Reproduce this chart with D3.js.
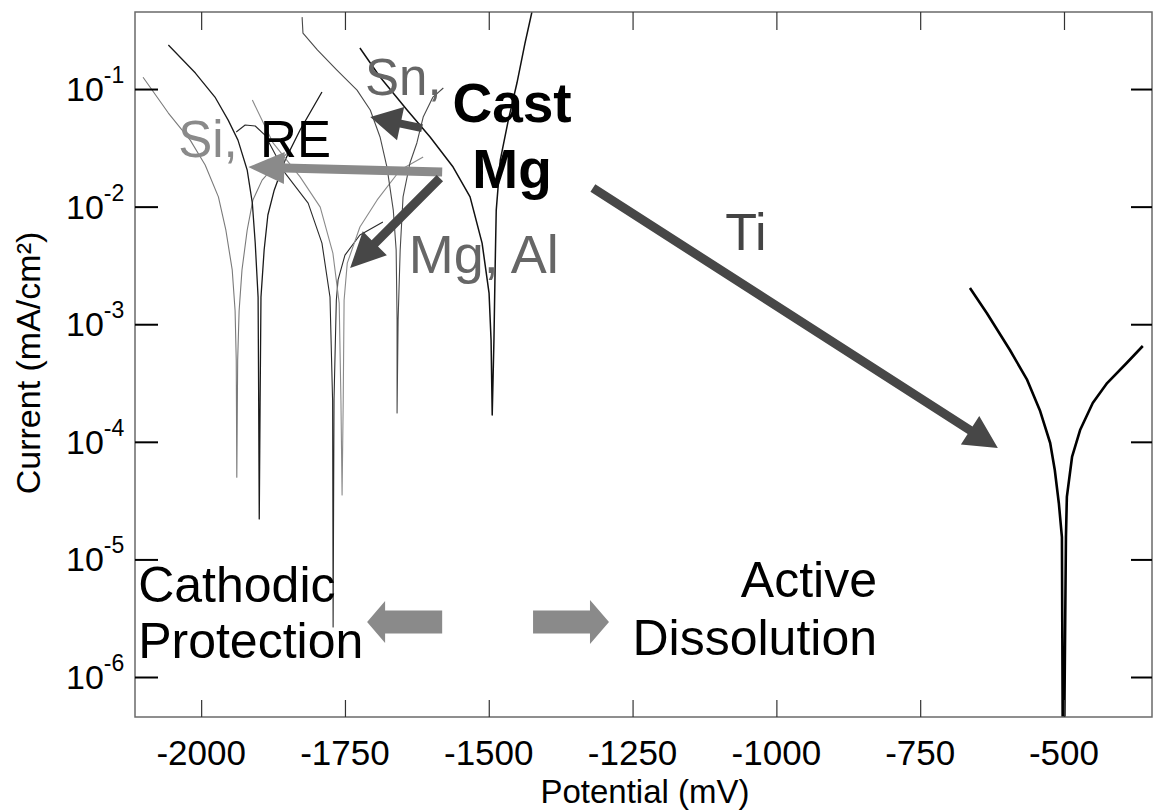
<!DOCTYPE html>
<html><head><meta charset="utf-8">
<script src="https://cdn.jsdelivr.net/npm/d3@7"></script>
<style>html,body{margin:0;padding:0;background:#fff;} svg{display:block;font-family:"Liberation Sans",Arial,sans-serif;}</style>
</head><body>
<svg id="chart" width="1158" height="811"></svg>
<script>
// ---- data (potential mV, current mA/cm2) ----
const xTicks = [-2000, -1750, -1500, -1250, -1000, -750, -500];
const yTickExps = [-1, -2, -3, -4, -5, -6];

const curveSi = [[-2101,0.126],[-2057,0.0625],[-2019,0.0368],[-1993,0.0226],[-1970,0.0121],[-1957,0.0063],[-1946,0.0029],[-1941,0.0013],[-1939,4.97e-4],[-1938,5.0e-5],[-1936.5,5.0e-4],[-1934,0.0013],[-1929,0.0029],[-1920,0.0063],[-1910,0.0114],[-1894,0.0168],[-1871,0.0226],[-1845,0.0303]];
const curveRE = [[-2057,0.2366],[-2010,0.1367],[-1976,0.0855],[-1953,0.0544],[-1936,0.0368],[-1920,0.0205],[-1911,0.0107],[-1906,0.0049],[-1901,0.0017],[-1900,2.26e-4],[-1899,2.21e-5],[-1897.5,2.3e-4],[-1896,0.0017],[-1890.5,0.00428],[-1884,0.00849],[-1873,0.0138],[-1854,0.0249],[-1828,0.0448],[-1790,0.0943]];
const curveAl = [[-1939,0.0431],[-1923.5,0.0494],[-1906,0.0485],[-1889,0.0406],[-1854,0.0193],[-1814,0.0107],[-1790,0.0049],[-1776,0.0017],[-1771.5,2.26e-4],[-1770.6,2.66e-6],[-1769,2.3e-4],[-1765,0.0016],[-1762,0.00238],[-1750,0.00387],[-1724,0.00574],[-1684,0.0074]];
const curveMg = [[-1911,0.0806],[-1875,0.0348],[-1828,0.0179],[-1793,0.0099],[-1771,0.00403],[-1760,0.00151],[-1757,2.26e-4],[-1755,3.53e-5],[-1753,2.3e-4],[-1751.5,0.0016],[-1746,0.00331],[-1724,0.00671],[-1694,0.0114],[-1654,0.0205],[-1614,0.0264]];
const curveSn = [[-1824.5,0.409],[-1823,0.299],[-1798,0.215],[-1764,0.145],[-1729,0.098],[-1706,0.0663],[-1689,0.0391],[-1677,0.0217],[-1666,0.00935],[-1661,0.00428],[-1659.4,0.00109],[-1659.4,1.76e-4],[-1657.6,0.00109],[-1654,0.00428],[-1649,0.0121],[-1637,0.0235],[-1625,0.0348],[-1614,0.0578],[-1597,0.0855],[-1579,0.102]];
const curveCast = [[-1724,0.2234],[-1689,0.1265],[-1642,0.0663],[-1602,0.0391],[-1562,0.0217],[-1532.5,0.0121],[-1511.6,0.0049],[-1499.5,0.00184],[-1496,7.34e-4],[-1494,1.69e-4],[-1491,7.3e-4],[-1489,0.00289],[-1487,0.00935],[-1480,0.0249],[-1466,0.0544],[-1451,0.1125],[-1437,0.246],[-1425,0.452]];
const curveTi = [[-663.5,0.00203],[-634,0.00124],[-594,6.04e-4],[-564,3.36e-4],[-542,1.86e-4],[-524,9.77e-5],[-516,5.76e-5],[-509,3.02e-5],[-503.6,1.55e-5],[-502,2e-7],[-500,2e-7],[-496.6,1.55e-5],[-495,3.4e-5],[-486,7.43e-5],[-472,1.26e-4],[-450,2.14e-4],[-425,3.16e-4],[-391,4.68e-4],[-363,6.53e-4]];

const seriesNames = ["Si","RE","Al","Mg","Sn","Cast Mg","Ti"];
const seriesData = [curveSi, curveRE, curveAl, curveMg, curveSn, curveCast, curveTi];

// arrows: [tail, tip] in (mV, current)
const arrowTails = [[-1616,0.0465],[-1581,0.0197],[-1585,0.0175],[-1319,0.0144]];
const arrowTips  = [[-1706,0.0578],[-1918,0.0217],[-1741,0.0030],[-615,8.85e-5]];
const blockTails = [[-1581,2.94e-6],[-1423,2.94e-6]];
const blockTips  = [[-1711.5,2.94e-6],[-1291,2.94e-6]];

// annotations: text and anchor (mV, current)
const labelTexts = ["Si,","RE","Sn,","Cast","Mg","Mg, Al","Ti","Cathodic","Protection","Active","Dissolution"];
const labelPos = [[-2040,0.0264],[-1897.5,0.0264],[-1715,0.0889],[-1459.5,0.0523],[-1459.5,0.0144],[-1639,0.00272],[-1089,0.00428],[-2109.5,4.35e-6],[-2109.5,1.45e-6],[-825,4.79e-6],[-825,1.54e-6]];

// ---- styles ----
const seriesStyle = [
  {stroke:"#7a7a7a", w:1.1},
  {stroke:"#1a1a1a", w:1.3},
  {stroke:"#2a2a2a", w:1.1},
  {stroke:"#8a8a8a", w:1.1},
  {stroke:"#4a4a4a", w:1.1},
  {stroke:"#111111", w:1.5},
  {stroke:"#000000", w:2.6}
];
const arrowStyle = [
  {fill:"#474747", w:8, hl:31, hw:17},
  {fill:"#8a8a8a", w:9, hl:36, hw:16},
  {fill:"#474747", w:9, hl:35, hw:17},
  {fill:"#474747", w:9, hl:33, hw:17}
];
const blockStyle = [
  {fill:"#8a8a8a", w:23, hl:18, hw:21},
  {fill:"#8a8a8a", w:23, hl:19, hw:22}
];
const labelStyle = [
  {fill:"#8a8a8a", size:51, anchor:"start", weight:"normal"},
  {fill:"#000", size:51, anchor:"start", weight:"normal"},
  {fill:"#666", size:51, anchor:"start", weight:"normal"},
  {fill:"#000", size:55, anchor:"middle", weight:"bold"},
  {fill:"#000", size:55, anchor:"middle", weight:"bold"},
  {fill:"#666", size:54, anchor:"start", weight:"normal"},
  {fill:"#444", size:52, anchor:"start", weight:"normal"},
  {fill:"#000", size:50, anchor:"start", weight:"normal"},
  {fill:"#000", size:50, anchor:"start", weight:"normal"},
  {fill:"#000", size:50, anchor:"end", weight:"normal"},
  {fill:"#000", size:50, anchor:"end", weight:"normal"}
];

// ---- layout ----
const L = 135, R = 1152, T = 12, B = 717;
const svg = d3.select("#chart");
const x = d3.scaleLinear().domain([-2115, -347]).range([L, R]);
const y = d3.scaleLog().domain([4.57e-7, 0.452]).range([B, T]);

svg.append("defs").append("clipPath").attr("id","plotclip")
  .append("rect").attr("x",L).attr("y",T).attr("width",R-L).attr("height",B-T);

// curves
const line = d3.line().x(d => x(d[0])).y(d => y(d[1]));
const gCurves = svg.append("g").attr("clip-path","url(#plotclip)");
seriesData.forEach((s,i) => {
  gCurves.append("path").datum(s).attr("d", line)
    .attr("fill","none").attr("stroke", seriesStyle[i].stroke)
    .attr("stroke-width", seriesStyle[i].w).attr("stroke-linejoin","round")
    .attr("data-name", seriesNames[i]);
});

// frame
svg.append("rect").attr("x",L).attr("y",T).attr("width",R-L).attr("height",B-T)
  .attr("fill","none").attr("stroke","#6a6a6a").attr("stroke-width",1.5);

// axes (ticks inward)
function styleAxis(g, w, c){ g.select(".domain").remove(); g.selectAll("line").attr("stroke",c).attr("stroke-width",w); g.selectAll("text").remove(); }
svg.append("g").attr("transform",`translate(0,${B})`).call(d3.axisBottom(x).tickValues(xTicks).tickSize(-17)).call(g=>styleAxis(g,1.2,"#333"));
svg.append("g").attr("transform",`translate(0,${T})`).call(d3.axisTop(x).tickValues(xTicks).tickSize(-18)).call(g=>styleAxis(g,1.2,"#333"));
const yVals = yTickExps.map(e => Math.pow(10, e));
svg.append("g").attr("transform",`translate(${L},0)`).call(d3.axisLeft(y).tickValues(yVals).tickSize(-23)).call(g=>styleAxis(g,2,"#000"));
svg.append("g").attr("transform",`translate(${R},0)`).call(d3.axisRight(y).tickValues(yVals).tickSize(-21)).call(g=>styleAxis(g,2,"#000"));

// x tick labels
svg.append("g").selectAll("text").data(xTicks).join("text")
  .attr("x", d => x(d)).attr("y", 765).attr("text-anchor","middle")
  .attr("font-size", 35).attr("fill","#000").text(d => "-" + Math.abs(d));

// y tick labels with superscripts
const yl = svg.append("g").selectAll("text").data(yTickExps).join("text")
  .attr("x", 66).attr("y", d => y(Math.pow(10,d)) + 12).attr("font-size", 34).attr("fill","#000");
yl.append("tspan").text("10");
yl.append("tspan").attr("dy",-18).attr("font-size",23).text(d => "-" + Math.abs(d));

// axis titles
svg.append("text").attr("x", 645).attr("y", 803).attr("text-anchor","middle")
  .attr("font-size", 33).attr("fill","#000").text("Potential (mV)");
svg.append("text").attr("transform","translate(40,363) rotate(-90)").attr("text-anchor","middle")
  .attr("font-size", 34).attr("fill","#000").text("Current (mA/cm²)");

// arrows
function arrowPoly(t0, t1, w, hl, hw){
  const dx = t1[0]-t0[0], dy = t1[1]-t0[1], len = Math.hypot(dx,dy);
  const ux = dx/len, uy = dy/len, nx = -uy, ny = ux;
  const bx = t1[0]-ux*hl, by = t1[1]-uy*hl;
  return [[t0[0]+nx*w/2, t0[1]+ny*w/2],[bx+nx*w/2, by+ny*w/2],[bx+nx*hw, by+ny*hw],[t1[0],t1[1]],
          [bx-nx*hw, by-ny*hw],[bx-nx*w/2, by-ny*w/2],[t0[0]-nx*w/2, t0[1]-ny*w/2]];
}
const ga = svg.append("g");
arrowTails.forEach((t,i) => {
  const p0 = [x(t[0]), y(t[1])], p1 = [x(arrowTips[i][0]), y(arrowTips[i][1])];
  const st = arrowStyle[i];
  ga.append("polygon").attr("points", arrowPoly(p0,p1,st.w,st.hl,st.hw).map(p=>p.join(",")).join(" ")).attr("fill", st.fill);
});
blockTails.forEach((t,i) => {
  const p0 = [x(t[0]), y(t[1])], p1 = [x(blockTips[i][0]), y(blockTips[i][1])];
  const st = blockStyle[i];
  ga.append("polygon").attr("points", arrowPoly(p0,p1,st.w,st.hl,st.hw).map(p=>p.join(",")).join(" ")).attr("fill", st.fill);
});

// annotation labels
svg.append("g").selectAll("text").data(labelTexts).join("text")
  .attr("x", (d,i) => x(labelPos[i][0])).attr("y", (d,i) => y(labelPos[i][1]))
  .attr("text-anchor", (d,i) => labelStyle[i].anchor)
  .attr("font-size", (d,i) => labelStyle[i].size)
  .attr("font-weight", (d,i) => labelStyle[i].weight)
  .attr("fill", (d,i) => labelStyle[i].fill)
  .text(d => d);
</script>
</body></html>
